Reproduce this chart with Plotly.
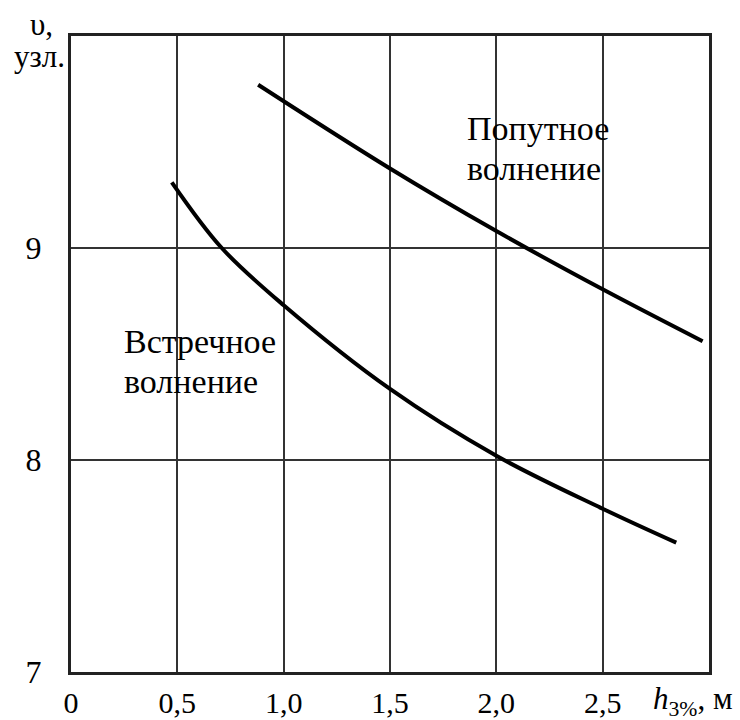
import plotly.graph_objects as go

# Data
x_follow = [0.88, 1.5, 2.0, 2.5, 2.97]
y_follow = [9.77, 9.375, 9.08, 8.805, 8.56]

x_head = [0.474, 0.709, 1.0, 1.5, 2.0, 2.5, 2.846]
y_head = [9.31, 9.0, 8.73, 8.335, 8.02, 7.77, 7.61]

x_ticks = [0, 0.5, 1.0, 1.5, 2.0, 2.5]
x_ticktext = ["0", "0,5", "1,0", "1,5", "2,0", "2,5"]
y_ticks = [7, 8, 9]
y_ticktext = ["7", "8", "9"]

FONT = "Liberation Serif"

fig = go.Figure()
fig.add_trace(go.Scatter(x=x_follow, y=y_follow, mode="lines", line=dict(color="black", width=4, shape="spline", smoothing=1.0), showlegend=False))
fig.add_trace(go.Scatter(x=x_head, y=y_head, mode="lines", line=dict(color="black", width=4, shape="spline", smoothing=1.0), showlegend=False))

fig.update_layout(
    width=740, height=720,
    margin=dict(l=71, r=31, t=36, b=48, autoexpand=False),
    paper_bgcolor="white", plot_bgcolor="white",
    font=dict(family=FONT, size=30, color="black"),
    xaxis=dict(range=[0, 3], tickvals=x_ticks, ticktext=x_ticktext, showgrid=True,
               gridcolor="#333333", gridwidth=2, showline=True, linecolor="#222222",
               linewidth=3, mirror=True, ticks="", zeroline=False, ticklabelstandoff=2,
               automargin=False,
               tickfont=dict(family=FONT, size=30, color="black")),
    yaxis=dict(range=[7, 10], tickvals=y_ticks, ticktext=y_ticktext, showgrid=True,
               gridcolor="#333333", gridwidth=2, showline=True, linecolor="#222222",
               linewidth=3, mirror=True, ticks="", zeroline=False, ticklabelstandoff=20,
               automargin=False,
               tickfont=dict(family=FONT, size=32, color="black")),
)

LBL = dict(family=FONT, size=34, color="black")
AX = dict(family=FONT, size=31, color="black")
annotations = [
    dict(text="υ,", x=0, y=1, xref="paper", yref="paper", xanchor="center", yanchor="middle",
         xshift=-30, yshift=12, showarrow=False, font=AX),
    dict(text="узл.", x=0, y=1, xref="paper", yref="paper", xanchor="right", yanchor="middle",
         xshift=-4, yshift=-20, showarrow=False, font=AX),
    dict(text="<i>h</i><sub>3%</sub>, м", x=1, y=0, xref="paper", yref="paper", xanchor="right",
         yanchor="middle", xshift=26, yshift=-29, showarrow=False, font=AX),
    dict(text="Встречное", x=0.241, y=8.557, xref="x", yref="y", xanchor="left",
         yanchor="middle", showarrow=False, font=LBL),
    dict(text="волнение", x=0.241, y=8.368, xref="x", yref="y", xanchor="left",
         yanchor="middle", showarrow=False, font=LBL),
    dict(text="Попутное", x=1.852, y=9.565, xref="x", yref="y", xanchor="left",
         yanchor="middle", showarrow=False, font=LBL),
    dict(text="волнение", x=1.852, y=9.376, xref="x", yref="y", xanchor="left",
         yanchor="middle", showarrow=False, font=LBL),
]
fig.update_layout(annotations=annotations)

fig.write_html("out.html")
